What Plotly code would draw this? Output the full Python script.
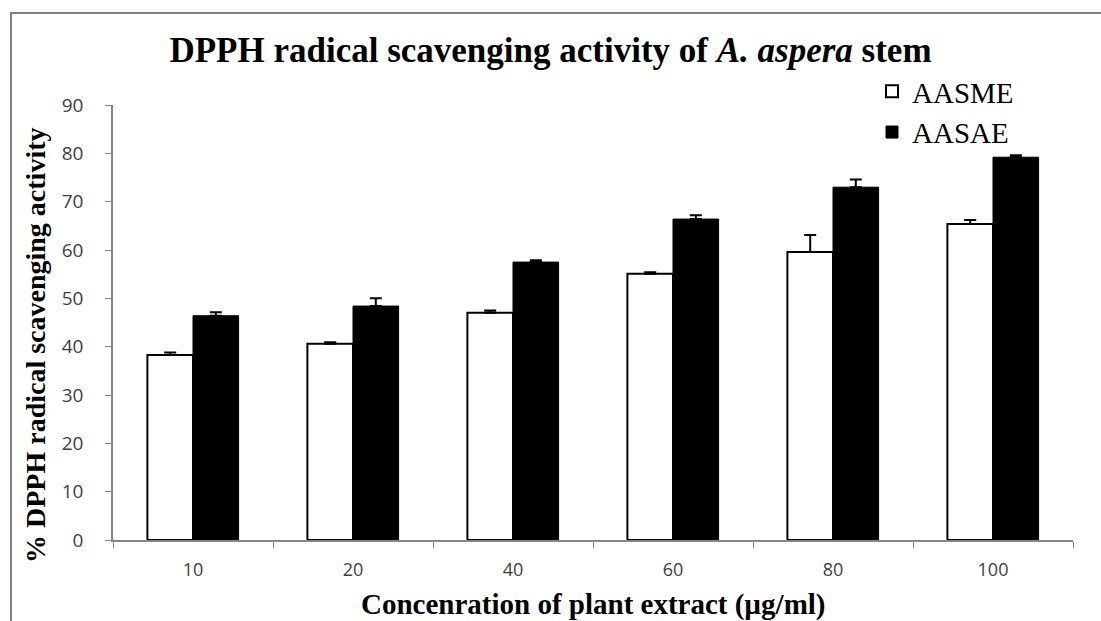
import plotly.graph_objects as go

categories = ["10", "20", "40", "60", "80", "100"]
aasme = [38.3, 40.6, 47.0, 55.1, 59.6, 65.4]
aasme_err = [0.5, 0.3, 0.5, 0.3, 3.5, 0.8]
aasae = [46.4, 48.4, 57.5, 66.4, 73.0, 79.2]
aasae_err = [0.7, 1.6, 0.4, 0.8, 1.6, 0.4]
y_ticks = [0, 10, 20, 30, 40, 50, 60, 70, 80, 90]

fig = go.Figure()
fig.add_trace(go.Bar(
    name="AASME", x=categories, y=aasme,
    marker=dict(color="white", line=dict(color="black", width=2)),
    error_y=dict(type="data", array=aasme_err, symmetric=False, arrayminus=[0]*6,
                 color="black", thickness=2, width=6),
))
fig.add_trace(go.Bar(
    name="AASAE", x=categories, y=aasae,
    marker=dict(color="black", line=dict(color="black", width=1)),
    error_y=dict(type="data", array=aasae_err, symmetric=False, arrayminus=[0]*6,
                 color="black", thickness=2, width=6),
))

L, R, T, B = 113, 28, 105, 81
W, H = 1101, 621
pw, ph = W - L - R, H - T - B


def px_x(p):
    return (p - L) / pw


def px_y(p):
    return (H - B - p) / ph


fig.update_layout(
    width=W, height=H,
    margin=dict(l=L, r=R, t=T, b=B, autoexpand=False),
    paper_bgcolor="white", plot_bgcolor="white",
    barmode="group", bargap=0.43, bargroupgap=0,
    showlegend=True,
    title=dict(
        text="<b>DPPH radical scavenging activity of <i>A. aspera</i> stem</b>",
        x=0.5, xanchor="center", y=1 - 50 / H, yanchor="middle",
        font=dict(family="Liberation Serif", size=35, color="black"),
    ),
    legend=dict(
        x=px_x(872), xanchor="left", y=px_y(66), yanchor="top",
        bgcolor="rgba(0,0,0,0)", font=dict(family="Liberation Serif", size=29, color="black"),
        itemwidth=30, tracegroupgap=2,
    ),
    xaxis=dict(
        type="category", showline=True, linecolor="#868686", linewidth=1.5,
        ticks="outside", tickson="boundaries", ticklen=6, tickcolor="#868686",
        tickfont=dict(family="Open Sans", size=18, color="#404040"),
        ticklabelstandoff=13, showgrid=False, zeroline=False,
    ),
    yaxis=dict(
        range=[0, 90], tickvals=y_ticks, showline=True, linecolor="#868686", linewidth=1.5,
        ticks="outside", ticklen=6, tickcolor="#868686",
        tickfont=dict(family="Open Sans", size=19, color="#404040"),
        ticklabelstandoff=18, showgrid=False, zeroline=False,
    ),
    annotations=[
        dict(text="<b>Concenration of plant extract (µg/ml)</b>", xref="paper", yref="paper",
             x=px_x(593), y=px_y(604), xanchor="center", yanchor="middle", showarrow=False,
             font=dict(family="Liberation Serif", size=29, color="black")),
        dict(text="<b>% DPPH radical scavenging activity</b>", xref="paper", yref="paper",
             x=px_x(35), y=px_y(345), xanchor="center", yanchor="middle", showarrow=False,
             textangle=-90, font=dict(family="Liberation Serif", size=28, color="black")),
    ],
    shapes=[dict(type="rect", xref="paper", yref="paper",
                 x0=px_x(11), x1=px_x(1110), y0=px_y(640), y1=px_y(13),
                 line=dict(color="#808080", width=2), fillcolor="rgba(0,0,0,0)", layer="below")],
)

fig.write_html("out.html")
